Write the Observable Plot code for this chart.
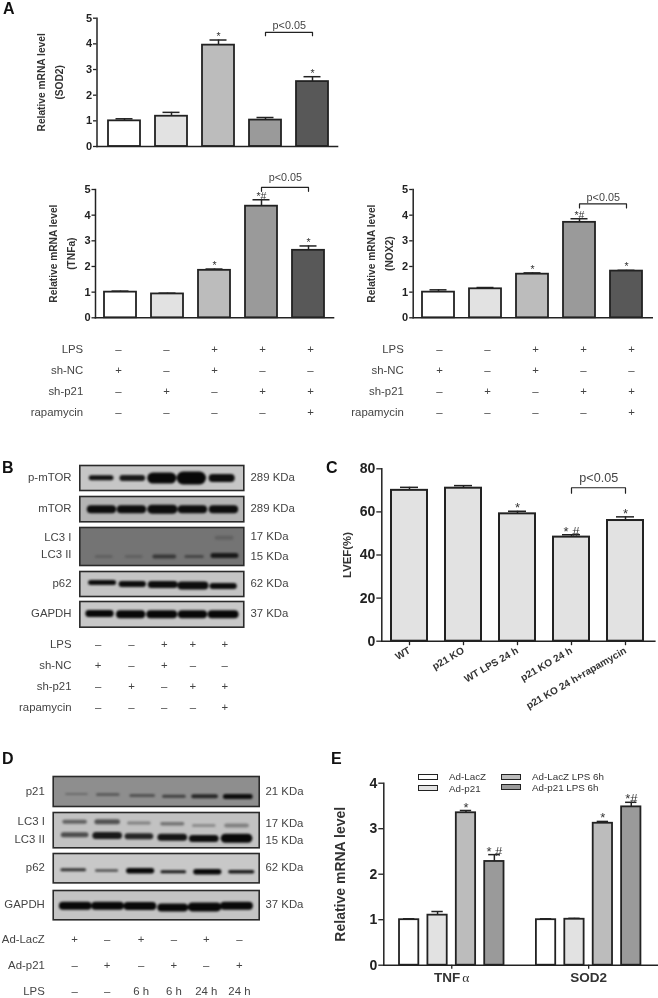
<!DOCTYPE html>
<html>
<head>
<meta charset="utf-8">
<script src="https://cdn.jsdelivr.net/npm/d3@7"></script>
<script src="https://cdn.jsdelivr.net/npm/@observablehq/plot@0.6"></script>
<style>
  html, body { margin: 0; padding: 0; background: #fff; }
  #page { position: relative; width: 658px; height: 998px; overflow: hidden; filter: blur(0.35px);
          font-family: "Liberation Sans", Arial, sans-serif; color: #333; }
  #page > * { position: absolute; }
  .letter { font-size: 16px; font-weight: bold; color: #111; line-height: 16px; }
  .swatch { box-sizing: border-box; border: 1.5px solid #222; }
  .legtext { font-size: 9.8px; line-height: 10px; color: #333; white-space: nowrap; }
</style>
</head>
<body>
<div id="page"></div>
<script>
// ---------- bar chart data ----------
const shCats = ["control sh-NC", "control sh-p21", "LPS sh-NC", "LPS sh-p21", "LPS sh-p21 rapamycin"];
const sod2Values = [1.0, 1.18, 3.95, 1.03, 2.53];
const sod2Tops   = [1.08, 1.33, 4.15, 1.13, 2.72];
const sod2Marks  = ["", "", "*", "", "*"];
const tnfaValues = [1.0, 0.93, 1.85, 4.35, 2.63];
const tnfaTops   = [1.04, 0.96, 1.9, 4.6, 2.8];
const tnfaMarks  = ["", "", "*", "*#", "*"];
const nox2Values = [1.0, 1.13, 1.7, 3.72, 1.82];
const nox2Tops   = [1.09, 1.18, 1.75, 3.86, 1.85];
const nox2Marks  = ["", "", "*", "*#", "*"];

const lvefCats   = ["WT", "p21 KO", "WT LPS 24 h", "p21 KO 24 h", "p21 KO 24 h+rapamycin"];
const lvefValues = [70, 71, 59.1, 48.3, 56];
const lvefTops   = [71.4, 72.2, 60.3, 49.4, 57.7];
const lvefMarks  = ["", "", "*", "* #", "*"];

const adSeries = ["Ad-LacZ", "Ad-p21", "Ad-LacZ LPS 6h", "Ad-p21 LPS 6h"];
const adGenes  = ["TNF\u03b1", "SOD2"];
const adTnfValues = [1.0, 1.1, 3.35, 2.28];
const adTnfTops   = [1.02, 1.18, 3.4, 2.43];
const adTnfMarks  = ["", "", "*", "* #"];
const adSodValues = [1.0, 1.01, 3.12, 3.48];
const adSodTops   = [1.02, 1.03, 3.16, 3.58];
const adSodMarks  = ["", "", "*", "*#"];

// ---------- treatment tables ----------
const rowLps = ["\u2013", "\u2013", "+", "+", "+"];
const rowNc  = ["+", "\u2013", "+", "\u2013", "\u2013"];
const rowP21 = ["\u2013", "+", "\u2013", "+", "+"];
const rowRap = ["\u2013", "\u2013", "\u2013", "\u2013", "+"];
const rowNames = ["LPS", "sh-NC", "sh-p21", "rapamycin"];
const rowLacz = ["+", "\u2013", "+", "\u2013", "+", "\u2013"];
const rowAd21 = ["\u2013", "+", "\u2013", "+", "\u2013", "+"];
const rowTime = ["\u2013", "\u2013", "6 h", "6 h", "24 h", "24 h"];
const rowNamesD = ["Ad-LacZ", "Ad-p21", "LPS"];

// ---------- blot bands: centre and length (% of strip), thickness, density, height in strip ----------
const pMtorC = [13, 32, 50, 68, 86.5], pMtorL = [12, 12, 11, 10, 11], pMtorT = [5, 6, 11, 13, 8], pMtorD = [.93, .9, .97, .97, .95], pMtorY = [.49, .5, .5, .5, .5];
const mTorC = [13.2, 31.5, 50.4, 68.7, 87.6], mTorL = [13, 13, 13, 13, 13], mTorT = [8, 8, 9, 8, 8], mTorD = [.95, .95, .95, .95, .95], mTorY = [.5, .5, .5, .5, .5];
const lc31C = [88], lc31L = [9], lc31T = [4], lc31D = [.62], lc31Y = [.27];
const lc32C = [14.6, 32.8, 51.5, 69.7, 88.2], lc32L = [9, 9, 12, 10, 14], lc32T = [3, 3, 4, 3, 5], lc32D = [.62, .62, .78, .72, .9], lc32Y = [.76, .76, .76, .76, .74];
const p62bC = [13.6, 32, 50.6, 69, 87.4], p62bL = [14, 13, 14, 14, 13], p62bT = [5, 6, 7, 8, 6], p62bD = [.95, .95, .95, .95, .95], p62bY = [.44, .5, .52, .56, .58];
const gapbC = [12, 31, 50, 68.7, 87.4], gapbL = [13, 13, 14, 13, 14], gapbT = [7, 8, 8, 8, 8], gapbD = [.97, .97, .97, .97, .97], gapbY = [.47, .5, .5, .5, .5];

const p21dC = [11.3, 26.5, 43.2, 58.6, 73.5, 89.6], p21dL = [10, 10, 11, 10, 11, 12], p21dT = [2, 3, 3, 3, 4, 5], p21dD = [.58, .64, .68, .75, .85, .95], p21dY = [.58, .6, .63, .66, .66, .67];
const lc1dC = [10.4, 26.2, 41.6, 57.8, 73.1, 89], lc1dL = [10, 10, 10, 10, 10, 10], lc1dT = [4, 5, 3, 3.5, 3, 4], lc1dD = [.62, .68, .5, .55, .45, .5], lc1dY = [.26, .26, .3, .32, .37, .37];
const lc2dC = [10.4, 26.2, 41.6, 57.8, 73.1, 89], lc2dL = [11, 11, 11, 11, 11, 11], lc2dT = [5, 7, 6, 7, 7, 9], lc2dD = [.7, .9, .85, .92, .95, .97], lc2dY = [.63, .65, .67, .7, .74, .73];
const p62dC = [9.7, 25.9, 42.2, 58.3, 74.8, 91.3], p62dL = [11, 10, 11, 11, 11, 11], p62dT = [3, 2.5, 5.5, 3, 5.5, 3.5], p62dD = [.8, .7, .97, .9, .97, .9], p62dY = [.55, .58, .59, .62, .62, .62];
const gapdC = [10.7, 26.4, 42.1, 58, 73.5, 89], gapdL = [12, 12, 12, 11, 12, 12], gapdT = [8, 8, 8, 8, 9, 8], gapdD = [.97, .97, .97, .97, .97, .97], gapdY = [.52, .52, .53, .58, .56, .52];

// ---------- style ----------
const FONT = '"Liberation Sans", Arial, sans-serif';
const INK = "#222";
const shades = ["#ffffff", "#e2e2e2", "#bcbcbc", "#9a9a9a", "#585858"];
const adShades = ["#ffffff", "#e2e2e2", "#bcbcbc", "#9a9a9a"];
const page = document.getElementById("page");
const baseStyle = {fontFamily: FONT, background: "transparent", overflow: "visible", color: "#333"};

function put(el, left, top) {
  el.style.left = left + "px";
  el.style.top = top + "px";
  page.appendChild(el);
  return el;
}
function zipRows(cats, values, tops, marks) {
  return cats.map((c, i) => ({cat: c, v: values[i], top: tops[i], mark: marks[i]}));
}
function bandsOf(c, l, t, d, y) {
  return c.map((cx, i) => ({x1: cx - l[i] / 2, x2: cx + l[i] / 2, thick: t[i], dens: d[i], y: y[i]}));
}
const grey = (dens) => { const g = Math.round(255 * (1 - dens)); return `rgb(${g},${g},${g})`; };

// ---------- bar panel on a band scale ----------
function barPanel(o) {
  const n = o.cats.length;
  const step = (o.lastRight - o.firstLeft - o.bw) / (n - 1);
  const pad = 1 - o.bw / step;
  const off = pad * step;
  const L = o.left, T = o.top;
  const rows = zipRows(o.cats, o.values, o.tops, o.marks);
  const [a, b] = [o.cats[o.from], o.cats[o.to]];
  const bracket = [{x: a, y: o.br[0]}, {x: a, y: o.br[1]}, {x: b, y: o.br[1]}, {x: b, y: o.br[0]}];
  const marks = [
    Plot.ruleX(rows, {x: "cat", y1: "v", y2: "top", stroke: INK, strokeWidth: 1.5}),
    Plot.tickY(rows, {x: "cat", y: "top", stroke: INK, strokeWidth: 1.5, insetLeft: o.capInset, insetRight: o.capInset}),
    Plot.barY(rows, {x: "cat", y: "v", fill: (d) => o.fills[o.cats.indexOf(d.cat)], stroke: INK, strokeWidth: o.sw}),
    Plot.frame({anchor: "left", stroke: INK, strokeWidth: 1.5}),
    Plot.frame({anchor: "bottom", stroke: INK, strokeWidth: 1.6}),
    Plot.axisY({ticks: o.yTicks, tickFormat: (d) => d, tickSize: o.tickSize, tickPadding: 1.5, label: null, fontSize: o.tickFont, fontWeight: "bold", stroke: INK, strokeWidth: 1.3, fill: INK}),
    Plot.text(rows.filter((d) => d.mark), {x: "cat", y: "top", text: "mark", dy: o.markDy, fontSize: o.markFont, lineAnchor: "bottom", fill: "#333"}),
    Plot.line(bracket, {x: "x", y: "y", stroke: INK, strokeWidth: 1.2}),
    Plot.text([{x: a, y: o.pY}], {x: "x", y: "y", text: () => "p<0.05", dx: step / 2, fontSize: o.pFont, fill: "#444"})
  ];
  for (const t of o.titles) {
    marks.push(Plot.text([t.text], {text: (d) => d, frameAnchor: "left", textAnchor: "middle", rotate: -90, dx: t.x - o.axisX, fontSize: o.titleFont, fontWeight: "bold", fill: "#333"}));
  }
  if (o.xAxis) {
    marks.push(Plot.axisX({tickRotate: -30, tickSize: 4.5, tickPadding: 4, label: null, fontSize: 10, fontWeight: "bold", stroke: INK, strokeWidth: 1.3, fill: "#333"}));
  }
  const plot = Plot.plot({
    width: o.width, height: o.height,
    marginLeft: o.axisX - L, marginRight: L + o.width - o.right,
    marginTop: o.yTop - T, marginBottom: T + o.height - o.y0,
    style: baseStyle,
    x: {type: "band", domain: o.cats, range: [o.firstLeft - off - L, o.lastRight + off - L], padding: pad, axis: null},
    y: {domain: o.domain, axis: null},
    marks
  });
  put(plot, L, T);
}

// ---------- treatment table ----------
function table(o) {
  const T = o.rowY[0] - 10, B = o.rowY[o.rowY.length - 1] + 5.5, L = o.left;
  const cells = o.names.flatMap((name, r) => o.rows[r].map((s, i) => ({row: name, lane: o.lanes[i], sym: s})));
  const plot = Plot.plot({
    width: o.width, height: B - T,
    marginLeft: o.labelEnd - L, marginRight: 0, marginTop: 0, marginBottom: 0,
    style: baseStyle,
    x: {domain: [0, 100], range: [o.x0 - L, o.x1 - L], axis: null},
    y: {type: "point", padding: 0, domain: o.names, range: [o.rowY[0] - T, o.rowY[o.rowY.length - 1] - T], axis: null},
    marks: [
      Plot.axisY({tickSize: 0, tickPadding: 0, label: null, fontSize: 11.4, fill: "#444"}),
      Plot.text(cells, {x: "lane", y: "row", text: "sym", fontSize: 11.4, fill: "#444"})
    ]
  });
  put(plot, L, T);
}

// ---------- blot strip ----------
function blot(o) {
  const T = o.y0 - 2, H = o.y1 - o.y0 + 4, L = o.left;
  const bands = o.bands.flat();
  const plot = Plot.plot({
    width: o.width, height: H,
    marginLeft: o.x0 - L, marginRight: L + o.width - o.x1, marginTop: 2, marginBottom: 2,
    style: baseStyle,
    x: {domain: [0, 100], axis: null},
    y: {domain: [0, 1], reverse: true, axis: null},
    marks: [
      Plot.frame({fill: o.bg, stroke: "none"}),
      Plot.link(bands, {x1: "x1", x2: "x2", y1: "y", y2: "y", stroke: (d) => grey(d.dens), strokeWidth: "thick", strokeLinecap: "round", imageFilter: "blur(0.8px)"}),
      Plot.frame({stroke: "#2a2a2a", strokeWidth: 1.6}),
      Plot.text(o.leftLabels, {y: "y", text: "t", frameAnchor: "left", dx: o.dxL, textAnchor: "end", fontSize: 11.4, fill: "#444"}),
      Plot.text(o.rightLabels, {y: "y", text: "t", frameAnchor: "right", dx: o.dxR, textAnchor: "start", fontSize: 11.4, fill: "#444"})
    ]
  });
  put(plot, L, T);
}

// ---------- panel A ----------
const commonBar = {cats: shCats, fills: shades, bw: 32, capInset: 7.5, sw: 1.8, tickSize: 3.5, tickFont: 11, titleFont: 10.2, markFont: 10.5, markDy: 0, pFont: 10.8, domain: [0, 5], yTicks: [0, 1, 2, 3, 4, 5], from: 3, to: 4};
barPanel({...commonBar, left: 0, top: 0, width: 345, height: 155, axisX: 96.5, right: 337, yTop: 17.7, y0: 146,
  firstLeft: 107, lastRight: 329, values: sod2Values, tops: sod2Tops, marks: sod2Marks,
  br: [4.32, 4.45], pY: 4.7, titles: [{text: "Relative mRNA level", x: 41.7}, {text: "(SOD2)", x: 59.3}]});
barPanel({...commonBar, left: 0, top: 170, width: 340, height: 155, axisX: 95, right: 333, yTop: 189, y0: 317.3,
  firstLeft: 102.7, lastRight: 325, values: tnfaValues, tops: tnfaTops, marks: tnfaMarks,
  br: [4.93, 5.08], pY: 5.48, titles: [{text: "Relative mRNA level", x: 53.3}, {text: "(TNFa)", x: 71.7}]});
barPanel({...commonBar, left: 340, top: 170, width: 318, height: 155, axisX: 412.7, right: 651.7, yTop: 189, y0: 317.3,
  firstLeft: 420.7, lastRight: 642.7, values: nox2Values, tops: nox2Tops, marks: nox2Marks,
  br: [4.28, 4.44], pY: 4.7, titles: [{text: "Relative mRNA level", x: 371.7}, {text: "(NOX2)", x: 389.3}]});

table({left: 0, width: 340, labelEnd: 82.7, x0: 118, x1: 310, rowY: [347.7, 369.3, 390.7, 412.3], names: rowNames,
  rows: [rowLps, rowNc, rowP21, rowRap], lanes: [0, 25, 50, 75, 100]});
table({left: 340, width: 318, labelEnd: 403.3, x0: 439, x1: 631, rowY: [347.7, 369.3, 390.7, 412.3], names: rowNames,
  rows: [rowLps, rowNc, rowP21, rowRap], lanes: [0, 25, 50, 75, 100]});

// ---------- panel B ----------
const bBox = {left: 0, width: 310, x0: 79.3, x1: 243.3, dxL: -8.3, dxR: 6.7};
blot({...bBox, y0: 465, y1: 490, bg: "#c6c6c6", bands: [bandsOf(pMtorC, pMtorL, pMtorT, pMtorD, pMtorY)],
  leftLabels: [{t: "p-mTOR", y: .48}], rightLabels: [{t: "289 KDa", y: .48}]});
blot({...bBox, y0: 495.7, y1: 521, bg: "#b4b4b4", bands: [bandsOf(mTorC, mTorL, mTorT, mTorD, mTorY)],
  leftLabels: [{t: "mTOR", y: .45}], rightLabels: [{t: "289 KDa", y: .47}]});
blot({...bBox, y0: 527.3, y1: 565.3, bg: "#747474", bands: [bandsOf(lc31C, lc31L, lc31T, lc31D, lc31Y), bandsOf(lc32C, lc32L, lc32T, lc32D, lc32Y)],
  leftLabels: [{t: "LC3 I", y: .25}, {t: "LC3 II", y: .71}], rightLabels: [{t: "17 KDa", y: .23}, {t: "15 KDa", y: .77}]});
blot({...bBox, y0: 570.7, y1: 595.7, bg: "#c4c4c4", bands: [bandsOf(p62bC, p62bL, p62bT, p62bD, p62bY)],
  leftLabels: [{t: "p62", y: .46}], rightLabels: [{t: "62 KDa", y: .48}]});
blot({...bBox, y0: 601.3, y1: 627, bg: "#c8c8c8", bands: [bandsOf(gapbC, gapbL, gapbT, gapbD, gapbY)],
  leftLabels: [{t: "GAPDH", y: .47}], rightLabels: [{t: "37 KDa", y: .48}]});
table({left: 0, width: 310, labelEnd: 71, x0: 79.3, x1: 243.3, rowY: [643.3, 664.7, 686, 707.7], names: rowNames,
  rows: [rowLps, rowNc, rowP21, rowRap], lanes: [11.2, 31.5, 51.5, 68.9, 88.4]});

// ---------- panel C ----------
barPanel({left: 340, top: 462, width: 318, height: 270, axisX: 381.3, right: 654.3, yTop: 468.3, y0: 640.7,
  cats: lvefCats, fills: ["#e2e2e2", "#e2e2e2", "#e2e2e2", "#e2e2e2", "#e2e2e2"], bw: 36.7, capInset: 9, sw: 2,
  tickSize: 5, tickFont: 14, titleFont: 11.4, markFont: 13, markDy: 1, pFont: 12.6, domain: [0, 80], yTicks: [0, 20, 40, 60, 80],
  from: 3, to: 4, firstLeft: 390, lastRight: 644.7, values: lvefValues, tops: lvefTops, marks: lvefMarks,
  br: [68.7, 71.2], pY: 75.6, titles: [{text: "LVEF(%)", x: 346.7}], xAxis: true});

// ---------- panel D ----------
const dBox = {left: 0, width: 320, x0: 52.7, x1: 258.7, dxL: -8.4, dxR: 6.3};
blot({...dBox, y0: 776, y1: 806, bg: "#8e8e8e", bands: [bandsOf(p21dC, p21dL, p21dT, p21dD, p21dY)],
  leftLabels: [{t: "p21", y: .5}], rightLabels: [{t: "21 KDa", y: .49}]});
blot({...dBox, y0: 811.7, y1: 847, bg: "#c2c2c2", bands: [bandsOf(lc1dC, lc1dL, lc1dT, lc1dD, lc1dY), bandsOf(lc2dC, lc2dL, lc2dT, lc2dD, lc2dY)],
  leftLabels: [{t: "LC3 I", y: .26}, {t: "LC3 II", y: .75}], rightLabels: [{t: "17 KDa", y: .31}, {t: "15 KDa", y: .8}]});
blot({...dBox, y0: 853.3, y1: 882.7, bg: "#c8c8c8", bands: [bandsOf(p62dC, p62dL, p62dT, p62dD, p62dY)],
  leftLabels: [{t: "p62", y: .48}], rightLabels: [{t: "62 KDa", y: .48}]});
blot({...dBox, y0: 889.7, y1: 919, bg: "#c4c4c4", bands: [bandsOf(gapdC, gapdL, gapdT, gapdD, gapdY)],
  leftLabels: [{t: "GAPDH", y: .48}], rightLabels: [{t: "37 KDa", y: .48}]});
table({left: 0, width: 320, labelEnd: 44.3, x0: 52.7, x1: 258.7, rowY: [937.7, 965, 991.5], names: rowNamesD,
  rows: [rowLacz, rowAd21, rowTime], lanes: [10.4, 26.2, 42.7, 58.6, 74.3, 90.4]});

// ---------- panel E ----------
(function () {
  const L = 335, T = 776, W = 323, H = 215;
  const GROUP_GAP = 4.82, HALF = 0.34;
  const rows = [
    ...adSeries.map((s, i) => ({g: 0, i, v: adTnfValues[i], top: adTnfTops[i], mark: adTnfMarks[i]})),
    ...adSeries.map((s, i) => ({g: 1, i, v: adSodValues[i], top: adSodTops[i], mark: adSodMarks[i]}))
  ];
  const xc = (d) => d.g * GROUP_GAP + d.i;
  const plot = Plot.plot({
    width: W, height: H,
    marginLeft: 383.3 - L, marginRight: L + W - 656.7, marginTop: 782.7 - T, marginBottom: T + H - 964.7,
    style: baseStyle,
    x: {domain: [-0.893, 8.733], axis: null},
    y: {domain: [0, 4], axis: null},
    marks: [
      Plot.ruleX(rows, {x: xc, y1: "v", y2: "top", stroke: INK, strokeWidth: 1.5}),
      Plot.ruleY(rows, {x1: (d) => xc(d) - 0.2, x2: (d) => xc(d) + 0.2, y: "top", stroke: INK, strokeWidth: 1.5}),
      Plot.rectY(rows, {x1: (d) => xc(d) - HALF, x2: (d) => xc(d) + HALF, y1: 0, y2: "v", fill: (d) => adShades[d.i], stroke: INK, strokeWidth: 1.8}),
      Plot.frame({anchor: "left", stroke: INK, strokeWidth: 1.5}),
      Plot.frame({anchor: "bottom", stroke: INK, strokeWidth: 1.6}),
      Plot.axisY({ticks: [0, 1, 2, 3, 4], tickSize: 5, tickPadding: 1.5, tickFormat: (d) => d, label: null, fontSize: 14, fontWeight: "bold", stroke: INK, strokeWidth: 1.3, fill: INK}),
      Plot.axisX([1.5, 1.5 + GROUP_GAP], {tickFormat: (d) => (d < 3 ? adGenes[0] : adGenes[1]), tickSize: 4, tickPadding: 3, label: null, fontSize: 13.5, fontWeight: "bold", stroke: INK, strokeWidth: 1.3, fill: "#333"}),
      Plot.text(rows.filter((d) => d.mark), {x: xc, y: "top", text: "mark", dy: 1, fontSize: 13, lineAnchor: "bottom", fill: "#333"}),
      Plot.text(["Relative mRNA level"], {text: (d) => d, frameAnchor: "left", textAnchor: "middle", rotate: -90, dx: 340 - 383.3, fontSize: 14, fontWeight: "bold", fill: "#333"})
    ]
  });
  put(plot, L, T);
  d3.select(plot).selectAll("text").filter(function () { return this.textContent === adGenes[0]; })
    .each(function () {
      const el = d3.select(this);
      el.text("TNF");
      el.append("tspan").attr("font-family", '"Liberation Serif", serif').attr("font-weight", "normal").attr("dx", 2).text("\u03b1");
    });
})();

// ---------- legend for panel E ----------
const legendX = [418, 501, 418, 501], legendY = [774.3, 773.7, 785.3, 784.3];
const legendOrder = [0, 2, 1, 3];
const legendTextX = [449, 532, 449, 532], legendTextY = [777.3, 776.7, 789, 787.7];
legendOrder.forEach((s, k) => {
  const sw = document.createElement("div");
  sw.className = "swatch";
  sw.style.width = "20px";
  sw.style.height = "6px";
  sw.style.background = adShades[s];
  put(sw, legendX[k], legendY[k]);
  const tx = document.createElement("div");
  tx.className = "legtext";
  tx.textContent = adSeries[s];
  put(tx, legendTextX[k], legendTextY[k] - 5);
});

// ---------- panel letters ----------
[["A", 3, 1], ["B", 2, 460], ["C", 326, 460], ["D", 2, 751], ["E", 331, 751]].forEach(([t, x, y]) => {
  const el = document.createElement("div");
  el.className = "letter";
  el.textContent = t;
  put(el, x, y);
});
</script>
</body>
</html>
